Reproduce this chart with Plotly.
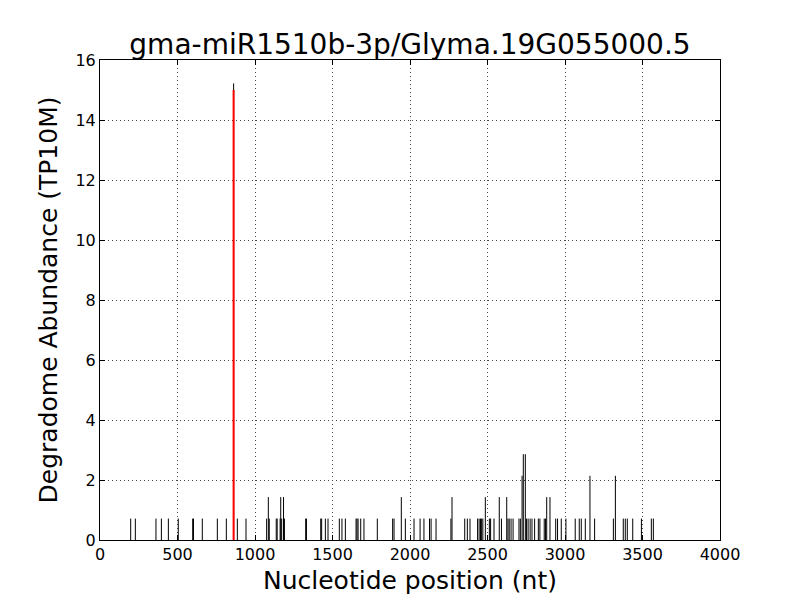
import plotly.graph_objects as go

positions = [198, 228, 361, 396, 441, 505, 598, 603, 660, 757, 815, 862, 886, 942,
             1075, 1086, 1092, 1137, 1143, 1162, 1166, 1172, 1184, 1190, 1327, 1332,
             1424, 1430, 1454, 1471, 1544, 1561, 1583, 1652, 1658, 1665, 1682, 1703,
             1789, 1888, 1897, 1944, 1970, 2026, 2065, 2090, 2126, 2136, 2168, 2264,
             2271, 2353, 2370, 2387, 2436, 2446, 2455, 2462, 2470, 2486, 2512, 2520,
             2542, 2576, 2590, 2624, 2632, 2640, 2652, 2665, 2703, 2712, 2723, 2731,
             2744, 2752, 2762, 2775, 2787, 2804, 2828, 2838, 2866, 2874, 2882, 2903,
             2940, 2952, 2976, 3006, 3066, 3092, 3105, 3131, 3161, 3191, 3312, 3325,
             3376, 3389, 3402, 3437, 3493, 3557, 3570]
abundance = [0.714, 0.714, 0.714, 0.714, 0.714, 0.714, 0.714, 0.714, 0.714, 0.714, 0.714, 15.22, 0.714, 0.714,
             0.714, 1.43, 0.714, 0.714, 0.714, 0.714, 1.43, 0.714, 1.43, 0.714, 0.714, 0.714,
             0.714, 0.714, 0.714, 0.714, 0.714, 0.714, 0.714, 0.714, 0.714, 0.714, 0.714, 0.714,
             0.714, 0.714, 0.714, 1.43, 0.714, 0.714, 0.714, 0.714, 0.714, 0.714, 0.714, 0.714,
             1.43, 0.714, 0.714, 0.714, 0.714, 0.714, 0.714, 0.714, 0.714, 1.43, 0.714, 0.714,
             0.714, 1.43, 0.714, 1.43, 0.714, 0.714, 0.714, 0.714, 0.714, 0.714, 2.14, 2.86,
             2.86, 0.714, 0.714, 0.714, 0.714, 0.714, 0.714, 0.714, 0.714, 0.714, 1.43, 1.43,
             0.714, 0.714, 0.714, 0.714, 0.714, 0.714, 0.714, 0.714, 2.14, 0.714, 0.714, 2.14,
             0.714, 0.714, 0.714, 0.714, 0.714, 0.714, 0.714]

cleavage_site = [862]
cleavage_abundance = [15.0]

title_text = "gma-miR1510b-3p/Glyma.19G055000.5"
x_label = "Nucleotide position (nt)"
y_label = "Degradome Abundance (TP10M)"

xs, ys = [], []
for p, v in zip(positions, abundance):
    xs += [p, p, None]
    ys += [0, v, None]

rx, ry = [], []
for p, v in zip(cleavage_site, cleavage_abundance):
    rx += [p, p, None]
    ry += [0, v, None]

fig = go.Figure()
fig.add_trace(go.Scatter(x=xs, y=ys, mode="lines", line=dict(color="black", width=1),
                         showlegend=False, hoverinfo="skip"))
fig.add_trace(go.Scatter(x=rx, y=ry, mode="lines", line=dict(color="red", width=2),
                         showlegend=False, hoverinfo="skip"))

font = "DejaVu Sans"
axis_common = dict(
    showline=True, linecolor="black", linewidth=1, mirror="allticks",
    ticks="inside", ticklen=5, tickcolor="black", tickwidth=1,
    showgrid=True, gridcolor="#444", gridwidth=0.6, griddash="1px,3px",
    zeroline=False, automargin=False,
    tickfont=dict(family=font, size=16, color="black"),
)

# the page body adds an 8px offset, so margins are shifted to compensate
fig.update_layout(
    width=800, height=600,
    margin=dict(l=92, r=88, t=52, b=68),
    paper_bgcolor="white", plot_bgcolor="white",
    title=dict(text=title_text, x=0.5, xref="paper", xanchor="center", y=1 - 36 / 600, yanchor="middle",
               yref="container", font=dict(family=font, size=28, color="black")),
    xaxis=dict(range=[0, 4000], tickvals=[0, 500, 1000, 1500, 2000, 2500, 3000, 3500, 4000],
               title=dict(text=x_label, font=dict(family=font, size=25, color="black"), standoff=8),
               **axis_common),
    yaxis=dict(range=[0, 16], tickvals=[0, 2, 4, 6, 8, 10, 12, 14, 16],
               title=dict(text=y_label, font=dict(family=font, size=25, color="black"), standoff=10),
               **axis_common),
)

fig.write_html("out.html")
